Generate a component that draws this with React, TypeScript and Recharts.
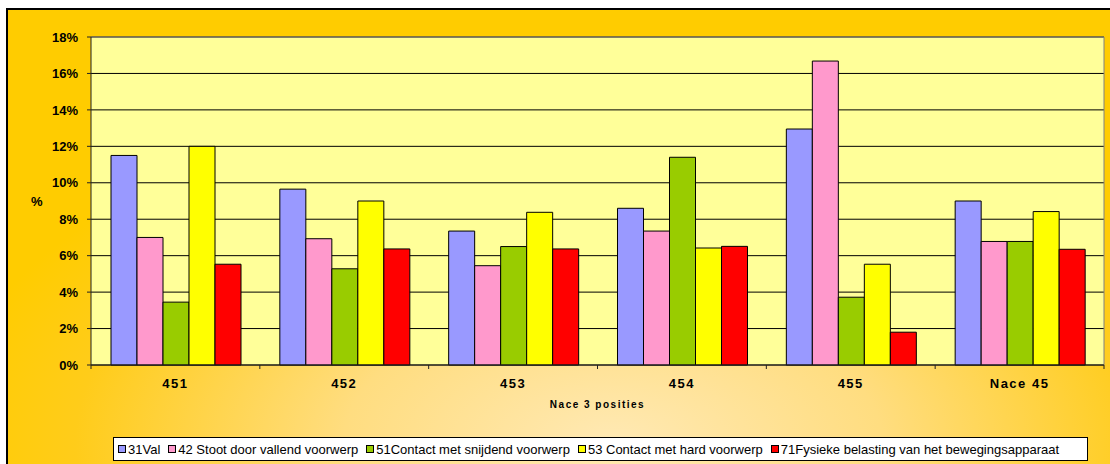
import { BarChart, Bar, XAxis, YAxis, CartesianGrid, Legend } from "recharts";

const categories = ["451", "452", "453", "454", "455", "Nace 45"];
const val31 = [11.5, 9.65, 7.35, 8.6, 12.95, 9.0];
const stoot42 = [7.0, 6.93, 5.45, 7.35, 16.68, 6.78];
const snijdend51 = [3.45, 5.28, 6.5, 11.4, 3.72, 6.78];
const hard53 = [12.0, 9.0, 8.38, 6.42, 5.53, 8.42];
const fysiek71 = [5.53, 6.37, 6.37, 6.51, 1.8, 6.35];

const seriesNames = [
  "31Val",
  "42 Stoot door vallend voorwerp",
  "51Contact met snijdend voorwerp",
  "53 Contact met hard voorwerp",
  "71Fysieke belasting van het bewegingsapparaat",
];
const seriesKeys = ["s31", "s42", "s51", "s53", "s71"];
const seriesColors = ["#9999FF", "#FF99CC", "#99CC00", "#FFFF00", "#FF0000"];
const yTicks = [0, 2, 4, 6, 8, 10, 12, 14, 16, 18];

const data = categories.map((cat, i) => ({
  cat,
  s31: val31[i],
  s42: stoot42[i],
  s51: snijdend51[i],
  s53: hard53[i],
  s71: fysiek71[i],
}));

const font = "'Liberation Sans', Arial, sans-serif";

function CatTick(props: any) {
  const { x, y, payload, index, visibleTicksCount } = props;
  const half = payload.offset ?? 84;
  const last = index === visibleTicksCount - 1;
  return (
    <g>
      <line x1={x - half} x2={x - half} y1={y} y2={y + 4} stroke="#222" />
      {last && <line x1={x + half} x2={x + half} y1={y} y2={y + 4} stroke="#222" />}
      <text
        x={x}
        y={y + 23}
        textAnchor="middle"
        fontFamily={font}
        fontSize={13}
        fontWeight="bold"
        letterSpacing={1.5}
        fill="#000"
      >
        {payload.value}
      </text>
    </g>
  );
}

function LegendBox({ payload }: any) {
  return (
    <div
      style={{
        border: "1px solid #000",
        background: "#fff",
        height: 22,
        display: "flex",
        alignItems: "center",
        padding: "0 4px",
        fontFamily: font,
        fontSize: 13,
        color: "#000",
        whiteSpace: "nowrap",
      }}
    >
      {(payload || []).map((p: any) => (
        <span key={p.value} style={{ display: "inline-flex", alignItems: "center", marginRight: 8 }}>
          <span
            style={{
              display: "inline-block",
              width: 6,
              height: 6,
              border: "1px solid #000",
              background: p.color,
              marginRight: 2,
            }}
          />
          {p.value}
        </span>
      ))}
    </div>
  );
}

export default function App() {
  return (
    <div
      style={{
        position: "absolute",
        left: 0,
        top: 0,
        width: 1110,
        height: 464,
        background: "#fff",
        overflow: "hidden",
      }}
    >
      <div
        style={{
          position: "absolute",
          left: 6,
          top: 8,
          width: 1120,
          height: 470,
          borderTop: "2px solid #000",
          borderLeft: "2px solid #000",
          background:
            "radial-gradient(ellipse 60% 75% at 54% 92%, #FFE9B4 0%, #FFDD80 40%, #FFCC1A 80%, #FFCC00 100%)",
        }}
      />
      <div style={{ position: "absolute", left: 0, top: 0 }}>
        <BarChart
          width={1110}
          height={464}
          data={data}
          margin={{ top: 37, right: 6, bottom: 0, left: 0 }}
          barGap={0}
          barCategoryGap={20}
        >
          <CartesianGrid horizontal vertical={false} stroke="#000" fill="#FFFF99" />
          <CartesianGrid
            vertical
            horizontal
            stroke="#808080"
            verticalCoordinatesGenerator={({ offset }: any) => [offset.left + offset.width]}
            horizontalCoordinatesGenerator={({ offset }: any) => [offset.top]}
          />
          <YAxis
            width={91}
            domain={[0, 18]}
            ticks={yTicks}
            interval={0}
            tickFormatter={(v) => `${v}%`}
            axisLine={{ stroke: "#222" }}
            tickLine={{ stroke: "#222" }}
            tickSize={4}
            tickMargin={9}
            tick={{ fontFamily: font, fontSize: 13, fontWeight: "bold", fill: "#000" }}
            label={{
              value: "%",
              position: "insideLeft",
              offset: 31,
              style: { fontFamily: font, fontSize: 13, fontWeight: "bold", fill: "#000" },
            }}
          />
          <XAxis
            dataKey="cat"
            height={75}
            interval={0}
            axisLine={{ stroke: "#222" }}
            tickLine={false}
            tickSize={0}
            tickMargin={0}
            tick={<CatTick />}
            label={{
              value: "Nace 3 posities",
              position: "insideBottom",
              offset: 32,
              style: {
                fontFamily: font,
                fontSize: 10,
                fontWeight: "bold",
                letterSpacing: 1.5,
                fill: "#000",
              },
            }}
          />
          <Legend
            verticalAlign="bottom"
            content={<LegendBox />}
            wrapperStyle={{ position: "absolute", left: 113, top: 437, bottom: "auto", width: 975 }}
          />
          {seriesKeys.map((k, i) => (
            <Bar
              key={k}
              dataKey={k}
              name={seriesNames[i]}
              fill={seriesColors[i]}
              stroke="#000"
              strokeWidth={1}
              isAnimationActive={false}
            />
          ))}
        </BarChart>
      </div>
    </div>
  );
}
